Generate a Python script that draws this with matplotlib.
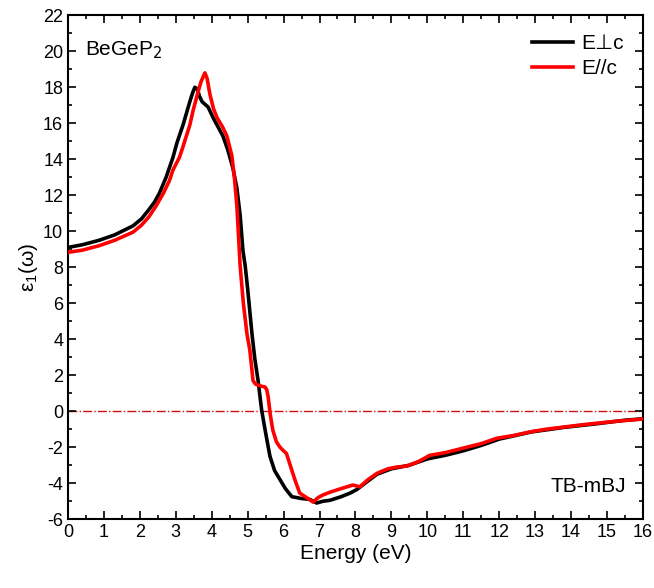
import matplotlib
matplotlib.use('Agg')
import matplotlib.pyplot as plt
from matplotlib.ticker import MultipleLocator

plt.rcParams['font.family'] = ['Liberation Sans', 'DejaVu Sans']
plt.rcParams['axes.unicode_minus'] = False

# E perpendicular to c (black)
e_perp = [0.0, 0.4, 0.87, 1.3, 1.81, 2.05, 2.25, 2.4, 2.54, 2.73, 2.92, 3.03, 3.2, 3.39, 3.47,
          3.53, 3.6, 3.66, 3.73, 3.9, 4.04, 4.31, 4.45, 4.59, 4.7, 4.79, 4.87, 4.93, 5.0, 5.12,
          5.2, 5.29, 5.39, 5.5, 5.62, 5.75, 5.9, 6.05, 6.23, 6.5, 6.73, 6.92, 7.1, 7.29, 7.6,
          7.85, 8.04, 8.3, 8.6, 9.0, 9.5, 10.0, 10.5, 11.0, 11.5, 12.0, 12.9, 13.8, 14.7, 15.5, 16.0]
eps_perp = [9.1, 9.25, 9.5, 9.8, 10.3, 10.7, 11.2, 11.6, 12.1, 13.0, 14.1, 14.9, 15.9, 17.2, 17.7,
            18.0, 17.9, 17.5, 17.2, 16.9, 16.3, 15.3, 14.5, 13.5, 12.4, 10.9, 8.9, 8.1, 6.8, 4.3,
            2.9, 1.7, 0.05, -1.2, -2.5, -3.3, -3.8, -4.3, -4.75, -4.85, -4.9, -5.1, -5.0, -4.95, -4.75,
            -4.55, -4.35, -3.95, -3.5, -3.2, -3.0, -2.65, -2.45, -2.2, -1.9, -1.55, -1.15, -0.9, -0.7, -0.5, -0.42]

# E parallel to c (red)
e_par = [0.0, 0.4, 0.87, 1.3, 1.81, 2.05, 2.25, 2.45, 2.65, 2.82, 2.92, 3.1, 3.2, 3.39, 3.48,
         3.6, 3.7, 3.81, 3.87, 3.95, 4.05, 4.15, 4.3, 4.42, 4.56, 4.63, 4.7, 4.79, 4.88, 4.98,
         5.06, 5.15, 5.22, 5.29, 5.4, 5.48, 5.53, 5.57, 5.63, 5.7, 5.8, 5.9, 6.0, 6.08, 6.2,
         6.33, 6.45, 6.64, 6.82, 6.96, 7.1, 7.29, 7.6, 7.93, 8.12, 8.35, 8.6, 8.9, 9.15, 9.43,
         9.75, 10.07, 10.5, 11.0, 11.5, 11.94, 12.4, 12.86, 13.3, 13.8, 14.25, 14.7, 15.3, 15.9, 16.0]
eps_par = [8.83, 8.95, 9.2, 9.5, 9.95, 10.35, 10.8, 11.4, 12.1, 12.8, 13.4, 14.1, 14.7, 15.9, 16.7,
           17.6, 18.3, 18.8, 18.5, 17.6, 16.8, 16.3, 15.8, 15.3, 14.2, 13.0, 11.4, 8.1, 6.0, 4.3,
           3.4, 1.7, 1.5, 1.45, 1.38, 1.35, 1.2, 0.8, -0.2, -1.05, -1.7, -2.0, -2.2, -2.35, -3.1,
           -3.9, -4.55, -4.8, -5.05, -4.8, -4.65, -4.5, -4.3, -4.1, -4.2, -3.8, -3.45, -3.2, -3.1, -3.05,
           -2.8, -2.45, -2.3, -2.05, -1.8, -1.5, -1.35, -1.15, -1.0, -0.88, -0.77, -0.67, -0.55, -0.45, -0.42]

fig = plt.figure(figsize=(6.54, 5.88), dpi=100)
ax = fig.add_axes([0.104, 0.117, 0.879, 0.857])

ax.axhline(0, color='#d01010', lw=1.0, ls='-.', zorder=1)
ax.plot(e_perp, eps_perp, color='black', lw=2.6, label='E\u22a5c', zorder=2,
        solid_joinstyle='round')
ax.plot(e_par, eps_par, color='#ff0000', lw=2.6, label='E//c', zorder=3,
        solid_joinstyle='round')

ax.set_xlim(0, 16)
ax.set_ylim(-6, 22)
ax.xaxis.set_major_locator(MultipleLocator(1))
ax.xaxis.set_minor_locator(MultipleLocator(0.5))
ax.yaxis.set_major_locator(MultipleLocator(2))
ax.yaxis.set_minor_locator(MultipleLocator(1))
ax.tick_params(which='both', direction='in', top=True, right=True, labelsize=13, width=1.2)
ax.tick_params(which='major', length=6)
ax.tick_params(which='minor', length=3)
for s in ax.spines.values():
    s.set_linewidth(1.5)

ax.set_xlabel('Energy (eV)', fontsize=15, labelpad=2)
ax.set_ylabel(r'$\mathregular{\epsilon_1(\omega)}$', fontsize=15, labelpad=2)

ax.text(0.03, 0.93, r'BeGeP$_2$', transform=ax.transAxes, fontsize=15, va='center')
ax.text(0.97, 0.065, 'TB-mBJ', transform=ax.transAxes, fontsize=15, ha='right', va='center')

ax.legend(loc='upper right', frameon=False, fontsize=15, handlelength=2.0,
          handletextpad=0.4, borderaxespad=0.5, labelspacing=0.3)

fig.savefig('out.png', dpi=100)
